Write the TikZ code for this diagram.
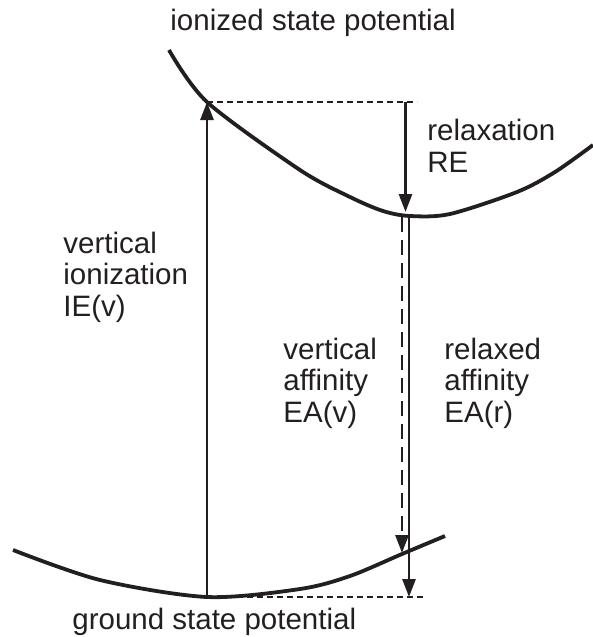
\documentclass[tikz,border=0pt]{standalone}
\usepackage{fontspec}
\setmainfont{Liberation Sans}
\usetikzlibrary{arrows.meta}
\definecolor{ink}{RGB}{35,31,32}
\tikzset{
  curve/.style={ink, line width=1.9pt},
  level/.style={ink, line width=1.3pt, dash pattern=on 3pt off 2pt},
  trans/.style={ink, line width=1.4pt, -{Triangle[length=9pt,width=6.5pt]}},
  vdash/.style={trans, dash pattern=on 7.5pt off 4pt},
  lbl/.style={ink, align=left, inner sep=0pt, anchor=base west, font=\fontsize{14.75}{15.75}\selectfont}
}
\begin{document}
\begin{tikzpicture}[x=0.5pt,y=-0.5pt]
\useasboundingbox (0,0) rectangle (593,637);
% potential curves
\draw[curve] plot[smooth] coordinates {(169,50) (207,102) (300,170) (350,197) (383,211) (410,216) (450,214) (517,192) (555,172) (593,145)};
\draw[curve] plot[smooth] coordinates {(13,550) (100,580) (207,597) (300,589) (350,576) (402,554) (445,536)};
% end points
\coordinate (vertTop) at (207,102);
\coordinate (topDashEnd) at (417,102);
\coordinate (reStart) at (405.5,102);
\coordinate (reEnd) at (405.5,212);
\coordinate (eavStart) at (402,217);
\coordinate (eavEnd) at (402,553);
\coordinate (earStart) at (409,217);
\coordinate (earEnd) at (409,597);
\coordinate (gsMin) at (207,597);
\coordinate (botDashEnd) at (425,597);
% levels and transitions
\draw[level] (vertTop) -- (topDashEnd);
\draw[level] (gsMin) -- (botDashEnd);
\draw[trans] (gsMin) -- (vertTop);
\draw[trans] (reStart) -- (reEnd);
\draw[vdash] (eavStart) -- (eavEnd);
\draw[trans] (earStart) -- (earEnd);
% labels (base = last line)
\node[lbl] (ionLbl) at (170,31) {ionized state potential};
\node[lbl] (reLbl) at (427,172) {relaxation\\RE};
\node[lbl] (ieLbl) at (63,316) {vertical\\ionization\\IE(v)};
\node[lbl] (eavLbl) at (283,422) {vertical\\affinity\\EA(v)};
\node[lbl] (earLbl) at (444,422) {relaxed\\affinity\\EA(r)};
\node[lbl] (gsLbl) at (72,629) {ground state potential};
\end{tikzpicture}
\end{document}
